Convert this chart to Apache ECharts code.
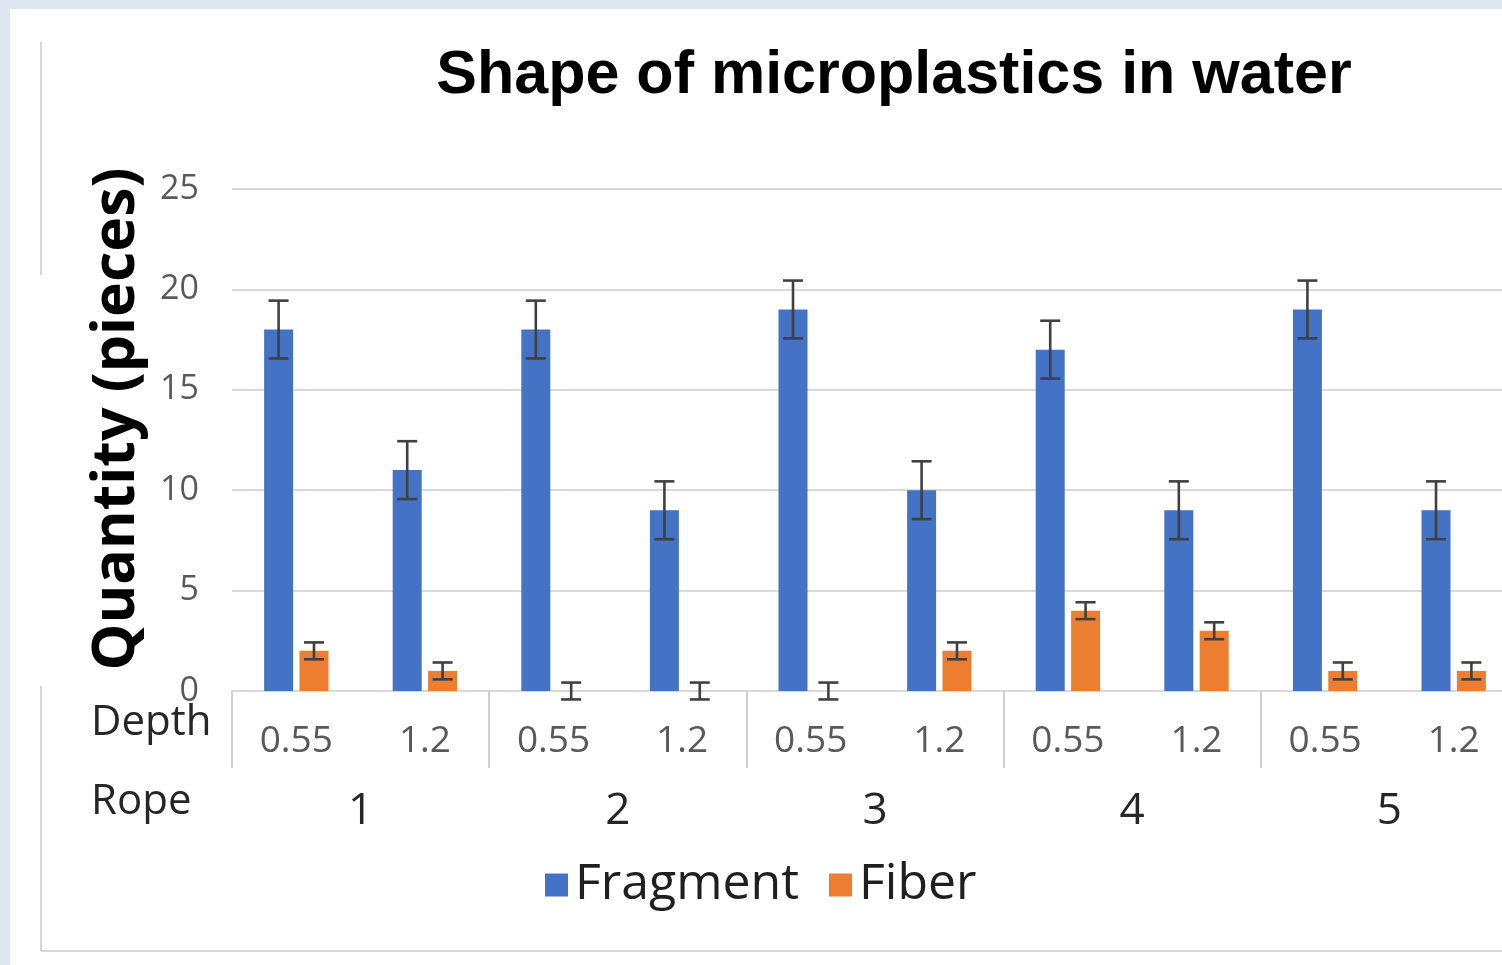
<!DOCTYPE html>
<html>
<head>
<meta charset="utf-8">
<title>Shape of microplastics in water</title>
<script src="https://cdn.jsdelivr.net/npm/echarts@6/dist/echarts.min.js"></script>
<style>
  html, body { margin: 0; padding: 0; background: #dee6f1; overflow: hidden; }
  #sheet { position: absolute; left: 10px; top: 9px; right: 0; bottom: 0; background: #ffffff; }
  /* the plot runs past the right edge of the window, so the canvas is wider than the page */
  #chart { position: absolute; left: 0; top: 0; width: 1518px; height: 965px; }
</style>
</head>
<body>
<div id="sheet"></div>
<div id="chart"></div>
<script>
// Depth (m) for each bar pair, grouped by rope
const depthLabels = ['0.55', '1.2', '0.55', '1.2', '0.55', '1.2', '0.55', '1.2', '0.55', '1.2'];
const ropeLabels = ['1', '2', '3', '4', '5'];

// Pieces counted per sample
const fragmentValues = [18, 11, 18, 9, 19, 10, 17, 9, 19, 9];
const fiberValues = [2, 1, 0, 0, 0, 2, 4, 3, 1, 1];

// Standard error for each bar
const fragmentErrors = [1.44, 1.44, 1.44, 1.44, 1.44, 1.44, 1.44, 1.44, 1.44, 1.44];
const fiberErrors = [0.42, 0.42, 0.42, 0.42, 0.42, 0.42, 0.42, 0.42, 0.42, 0.42];

// Value axis range
const yMin = 0;
const yMax = 25;
const yStep = 5;

const BLUE = '#4472c4';
const ORANGE = '#ed7d31';
const GRID_GRAY = '#d9d9d9';
const LABEL_GRAY = '#595959';
const TEXT_DARK = '#262626';

const BAR_W = 29;
const BAR_GAP = 0.22;               // fraction of bar width
const SHIFT = (BAR_W + BAR_W * BAR_GAP) / 2;
const CAP = 20;

function errorBars(name, values, errors, shift) {
  return {
    type: 'custom',
    name: name + ' error',
    xAxisIndex: 0,
    yAxisIndex: 0,
    z: 5,
    silent: true,
    clip: false,
    data: values.map((v, i) => [i, v - errors[i], v + errors[i]]),
    encode: { x: 0, y: [1, 2] },
    renderItem(params, api) {
      const lo = api.coord([api.value(0), api.value(1)]);
      const hi = api.coord([api.value(0), api.value(2)]);
      const x = lo[0] + shift;
      const h = CAP / 2;
      const style = { stroke: '#404040', lineWidth: 2.6 };
      return {
        type: 'group',
        children: [
          { type: 'line', shape: { x1: x, y1: hi[1], x2: x, y2: lo[1] }, style },
          { type: 'line', shape: { x1: x - h, y1: hi[1], x2: x + h, y2: hi[1] }, style },
          { type: 'line', shape: { x1: x - h, y1: lo[1], x2: x + h, y2: lo[1] }, style }
        ]
      };
    }
  };
}

const chart = echarts.init(document.getElementById('chart'), null, { renderer: 'canvas' });

chart.setOption({
  backgroundColor: 'transparent',
  animation: false,
  grid: { left: 232, top: 189, right: 0, height: 502, containLabel: false },
  legend: {
    data: ['Fragment', 'Fiber'],
    left: 545,
    top: 860,
    icon: 'rect',
    itemWidth: 23,
    itemHeight: 23,
    itemGap: 30,
    padding: 0,
    textStyle: { fontFamily: '"Open Sans"', fontSize: 50, color: '#1f1f1f', padding: [0, 0, 0, 2] }
  },
  xAxis: [
    {
      type: 'category',
      data: depthLabels,
      position: 'bottom',
      axisLine: { show: true, lineStyle: { color: GRID_GRAY, width: 2 } },
      axisTick: { show: false },
      axisLabel: { fontFamily: '"Open Sans"', fontSize: 37, color: LABEL_GRAY, margin: 32 },
      splitLine: { show: false }
    },
    {
      type: 'category',
      data: ropeLabels,
      position: 'bottom',
      axisLine: { show: false },
      axisTick: { show: true, length: 77, lineStyle: { color: '#d0d0d0', width: 2 } },
      axisLabel: { fontFamily: '"Open Sans"', fontSize: 44, color: TEXT_DARK, margin: 98 },
      splitLine: { show: false }
    }
  ],
  yAxis: {
    type: 'value',
    min: yMin,
    max: yMax,
    interval: yStep,
    axisLine: { show: false },
    axisTick: { show: false },
    axisLabel: { fontFamily: '"Open Sans"', fontSize: 34, color: LABEL_GRAY, margin: 33 },
    splitLine: { lineStyle: { color: GRID_GRAY, width: 2 } }
  },
  series: [
    {
      name: 'Fragment',
      type: 'bar',
      xAxisIndex: 0,
      data: fragmentValues,
      barWidth: BAR_W,
      barGap: (BAR_GAP * 100) + '%',
      itemStyle: { color: BLUE }
    },
    {
      name: 'Fiber',
      type: 'bar',
      xAxisIndex: 0,
      data: fiberValues,
      barWidth: BAR_W,
      barGap: (BAR_GAP * 100) + '%',
      itemStyle: { color: ORANGE }
    },
    errorBars('Fragment', fragmentValues, fragmentErrors, -SHIFT),
    errorBars('Fiber', fiberValues, fiberErrors, SHIFT)
  ],
  graphic: [
    {
      type: 'text', x: 894, y: 76, silent: true,
      style: {
        text: 'Shape of microplastics in water',
        font: 'bold 61px "Liberation Sans", Arial, sans-serif',
        fill: '#000000', align: 'center', verticalAlign: 'middle'
      }
    },
    {
      type: 'text', x: 117, y: 419, rotation: Math.PI / 2, silent: true,
      style: {
        text: 'Quantity (pieces)',
        font: 'bold 59px "Open Sans", sans-serif',
        fill: '#000000', align: 'center', verticalAlign: 'middle'
      }
    },
    {
      type: 'text', x: 91, y: 723, silent: true,
      style: { text: 'Depth', font: '42px "Open Sans", sans-serif', fill: TEXT_DARK, align: 'left', verticalAlign: 'middle' }
    },
    {
      type: 'text', x: 91, y: 802, silent: true,
      style: { text: 'Rope', font: '42px "Open Sans", sans-serif', fill: TEXT_DARK, align: 'left', verticalAlign: 'middle' }
    },
    // outer chart frame
    { type: 'line', silent: true, shape: { x1: 41, y1: 42, x2: 41, y2: 275 }, style: { stroke: '#d6d6d6', lineWidth: 2 } },
    { type: 'line', silent: true, shape: { x1: 41, y1: 686, x2: 41, y2: 951 }, style: { stroke: '#d6d6d6', lineWidth: 2 } },
    { type: 'line', silent: true, shape: { x1: 41, y1: 951, x2: 1518, y2: 951 }, style: { stroke: '#d6d6d6', lineWidth: 2 } }
  ]
});
</script>
</body>
</html>
